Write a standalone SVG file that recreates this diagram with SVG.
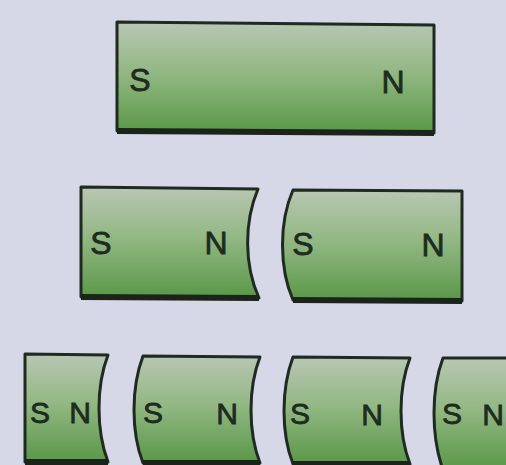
<svg xmlns="http://www.w3.org/2000/svg" width="506" height="465" viewBox="0 0 506 465">
<defs>
<linearGradient id="g" x1="0" y1="0" x2="0" y2="1">
<stop offset="0" stop-color="#b9c6b4"/>
<stop offset="0.45" stop-color="#93b884"/>
<stop offset="1" stop-color="#5a9748"/>
</linearGradient>
</defs>
<style>
.m{fill:url(#g);stroke:#1f2a20;stroke-width:3;stroke-linejoin:round}
.b{stroke:#1a241b;stroke-width:6;fill:none;stroke-linecap:butt}
.t{font-family:"Liberation Sans",Arial,sans-serif;fill:#1d2c1f;stroke:#1d2c1f;stroke-width:0.8;text-anchor:middle;font-size:32px}
.s{font-size:30px}
</style>
<rect width="506" height="465" fill="#d6d8e7"/>
<g id="magnet-whole">
<path class="m" d="M117,22 L434,25 L434,133 L117,131 Z"/>
<path class="b" d="M117,131 L434,133"/>
<text class="t" x="140" y="91">S</text>
<text class="t" x="393" y="93">N</text>
</g>
<g id="half-left">
<path class="m" d="M81,187 L258,189 C244,222 244,265 259,298 L81,297 Z"/>
<path class="b" d="M81,297 L259,298"/>
<text class="t" x="101" y="254">S</text>
<text class="t" x="216" y="254">N</text>
</g>
<g id="half-right">
<path class="m" d="M293,190 L462,191 L462,301 L293,300 C279,268 279,222 293,190 Z"/>
<path class="b" d="M293,300 L462,301"/>
<text class="t" x="303" y="255">S</text>
<text class="t" x="433" y="256">N</text>
</g>
<g id="quarter-1">
<path class="m" d="M25,354 L108,355 C96,386 96,430 108,462 L25,462 Z"/>
<path class="b" d="M25,462 L108,462"/>
<text class="t s" x="40" y="423">S</text>
<text class="t s" x="80" y="423">N</text>
</g>
<g id="quarter-2">
<path class="m" d="M143,356 L260,357 C248,388 248,432 260,463 L143,463 C131,432 131,388 143,356 Z"/>
<path class="b" d="M143,463 L260,463"/>
<text class="t s" x="153" y="423">S</text>
<text class="t s" x="227" y="424">N</text>
</g>
<g id="quarter-3">
<path class="m" d="M293,357 L410,358 C398,389 398,433 410,464 L293,464 C281,433 281,389 293,357 Z"/>
<path class="b" d="M293,464 L410,464"/>
<text class="t s" x="300" y="424">S</text>
<text class="t s" x="372" y="425">N</text>
</g>
<g id="quarter-4">
<path class="m" d="M443,358 L520,358 L520,470 L443,470 C431,436 431,390 443,358 Z"/>
<text class="t s" x="452" y="424">S</text>
<text class="t s" x="493" y="425">N</text>
</g>
</svg>
